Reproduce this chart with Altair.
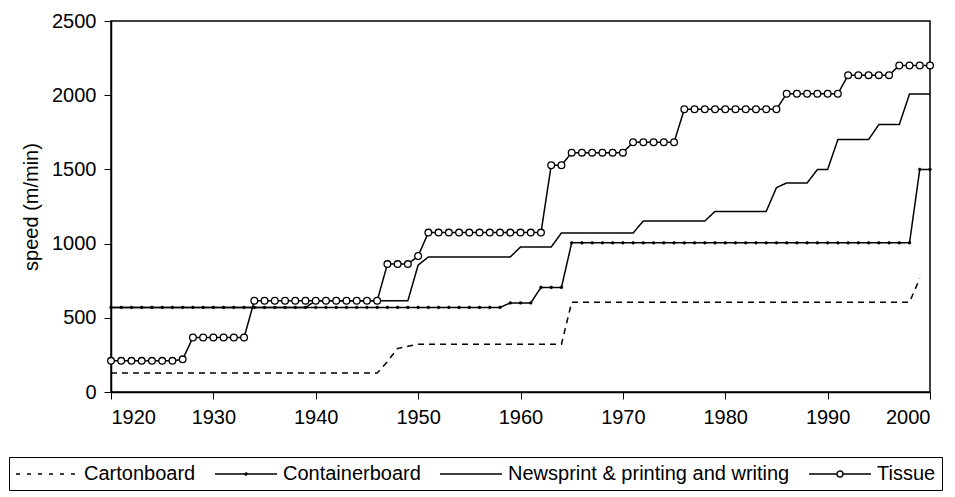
import altair as alt
import pandas as pd

years = list(range(1920, 2001))
carton_years = list(range(1920, 2000))

series_names = ["Cartonboard", "Containerboard", "Newsprint & printing and writing", "Tissue"]

cartonboard = [
    128, 128, 128, 128, 128, 128, 128, 128, 128, 128,   # 1920-1929
    128, 128, 128, 128, 128, 128, 128, 128, 128, 128,   # 1930-1939
    128, 128, 128, 128, 128, 128, 128, 205, 294, 308,   # 1940-1949
    322, 322, 322, 322, 322, 322, 322, 322, 322, 322,   # 1950-1959
    322, 322, 322, 322, 322, 605, 605, 605, 605, 605,   # 1960-1969
    605, 605, 605, 605, 605, 605, 605, 605, 605, 605,   # 1970-1979
    605, 605, 605, 605, 605, 605, 605, 605, 605, 605,   # 1980-1989
    605, 605, 605, 605, 605, 605, 605, 605, 605, 765,   # 1990-1999
]

containerboard = [
    570, 570, 570, 570, 570, 570, 570, 570, 570, 570,   # 1920-1929
    570, 570, 570, 570, 570, 570, 570, 570, 570, 570,   # 1930-1939
    570, 570, 570, 570, 570, 570, 570, 570, 570, 570,   # 1940-1949
    570, 570, 570, 570, 570, 570, 570, 570, 570, 600,   # 1950-1959
    600, 600, 705, 705, 705, 1005, 1005, 1005, 1005, 1005,  # 1960-1969
    1005, 1005, 1005, 1005, 1005, 1005, 1005, 1005, 1005, 1005,  # 1970-1979
    1005, 1005, 1005, 1005, 1005, 1005, 1005, 1005, 1005, 1005,  # 1980-1989
    1005, 1005, 1005, 1005, 1005, 1005, 1005, 1005, 1005, 1500,  # 1990-1999
    1500,                                               # 2000
]

newsprint = [
    570, 570, 570, 570, 570, 570, 570, 570, 570, 570,   # 1920-1929
    570, 570, 570, 570, 570, 570, 570, 570, 570, 570,   # 1930-1939
    615, 615, 615, 615, 615, 615, 615, 615, 615, 615,   # 1940-1949
    855, 910, 910, 910, 910, 910, 910, 910, 910, 910,   # 1950-1959
    977, 977, 977, 977, 1072, 1072, 1072, 1072, 1072, 1072,  # 1960-1969
    1072, 1072, 1152, 1152, 1152, 1152, 1152, 1152, 1152, 1217,  # 1970-1979
    1217, 1217, 1217, 1217, 1217, 1377, 1409, 1409, 1409, 1499,  # 1980-1989
    1499, 1701, 1701, 1701, 1701, 1802, 1802, 1802, 2008, 2008,  # 1990-1999
    2008,                                               # 2000
]

tissue = [
    210, 210, 210, 210, 210, 210, 210, 220, 367, 367,   # 1920-1929
    367, 367, 367, 367, 615, 615, 615, 615, 615, 615,   # 1930-1939
    615, 615, 615, 615, 615, 615, 615, 862, 862, 862,   # 1940-1949
    916, 1074, 1074, 1074, 1074, 1074, 1074, 1074, 1074, 1074,  # 1950-1959
    1074, 1074, 1074, 1528, 1528, 1613, 1613, 1613, 1613, 1613,  # 1960-1969
    1613, 1683, 1683, 1683, 1683, 1683, 1905, 1905, 1905, 1905,  # 1970-1979
    1905, 1905, 1905, 1905, 1905, 1905, 2010, 2010, 2010, 2010,  # 1980-1989
    2010, 2010, 2135, 2135, 2135, 2135, 2135, 2200, 2200, 2200,  # 1990-1999
    2200,                                               # 2000
]

x_ticks = [1920, 1930, 1940, 1950, 1960, 1970, 1980, 1990, 2000]
y_ticks = [0, 500, 1000, 1500, 2000, 2500]

rows = []
for y, v in zip(carton_years, cartonboard):
    rows.append({"year": y, "speed": v, "series": series_names[0]})
for y, v in zip(years, containerboard):
    rows.append({"year": y, "speed": v, "series": series_names[1]})
for y, v in zip(years, newsprint):
    rows.append({"year": y, "speed": v, "series": series_names[2]})
for y, v in zip(years, tissue):
    rows.append({"year": y, "speed": v, "series": series_names[3]})
df = pd.DataFrame(rows)

FONT = "Liberation Sans"

x_enc = alt.X("year:Q", scale=alt.Scale(domain=[1920, 2000], nice=False, zero=False),
              axis=alt.Axis(values=x_ticks, format="d", title=None))
y_enc = alt.Y("speed:Q", scale=alt.Scale(domain=[0, 2500], nice=False),
              axis=alt.Axis(values=y_ticks, format="d", title="speed (m/min)"))

# legend symbol glyphs (unit box, scaled by the symbol radius)
dash_path = ("M-1,0H-0.6M0.1,0H0.5M1.2,0H1.6M2.3,0H2.7M3.4,0H3.8M4.5,0H4.9")
line_path = "M-1,0H5.2"
cont_path = "M-1,0H5.2M2.0,0A0.1,0.1 0 1,1 2.2,0A0.1,0.1 0 1,1 2.0,0"
tis_path = "M-1,0H1.8M2.4,0H5.2M2.4,0A0.3,0.3 0 1,1 1.8,0A0.3,0.3 0 1,1 2.4,0"

legend = alt.Legend(
    title=None,
    orient="none",
    legendX=-102,
    legendY=436,
    direction="horizontal",
    strokeColor="black",
    padding=6,
    labelFont=FONT,
    labelFontSize=20,
    labelColor="black",
    labelLimit=600,
    labelOffset=47,
    columnPadding=16,
    symbolSize=400,
    symbolStrokeWidth=1.5,
    symbolStrokeColor="black",
    symbolFillColor="transparent",
    symbolOpacity=1,
)

lines = alt.Chart(df).mark_line(strokeWidth=1.5, color="black").encode(
    x=x_enc,
    y=y_enc,
    strokeDash=alt.StrokeDash(
        "series:N",
        scale=alt.Scale(domain=series_names, range=[[6, 5], [1, 0], [1, 0], [1, 0]]),
        legend=None,
    ),
)

# invisible carrier of the legend (only the first year's rows, so nothing sticks out)
legend_layer = alt.Chart(df[df["year"] == 1920]).mark_point(
    filled=False, color="black", size=400, strokeWidth=1.5,
    strokeOpacity=0, fillOpacity=0
).encode(
    x=x_enc,
    y=y_enc,
    shape=alt.Shape(
        "series:N",
        scale=alt.Scale(domain=series_names, range=[dash_path, cont_path, line_path, tis_path]),
        legend=legend,
    ),
)

cont_pts = alt.Chart(df[df["series"] == "Containerboard"]).mark_point(
    shape="circle", filled=True, fill="black", stroke="black", strokeWidth=0.5, size=8, opacity=1
).encode(x=x_enc, y=y_enc)

tis_pts = alt.Chart(df[df["series"] == "Tissue"]).mark_point(
    shape="circle", filled=True, fill="white", stroke="black", strokeWidth=1.3, size=45, opacity=1
).encode(x=x_enc, y=y_enc)

chart = alt.layer(legend_layer, lines, cont_pts, tis_pts).properties(
    width=819,
    height=371,
    padding={"left": 0, "top": 3, "right": 0, "bottom": 0},
    background="white",
).configure_view(
    stroke="black", strokeWidth=1.5
).configure_axis(
    grid=False,
    domainColor="black",
    domainWidth=1.5,
    tickColor="black",
    tickSize=7,
    tickWidth=1,
    labelFont=FONT,
    labelFontSize=20,
    labelColor="black",
    labelPadding=8,
    titleFont=FONT,
    titleFontSize=20,
    titleFontWeight="normal",
    titleColor="black",
    titlePadding=10,
)

chart.save("out.html", embed_options={"renderer": "svg", "actions": False})
